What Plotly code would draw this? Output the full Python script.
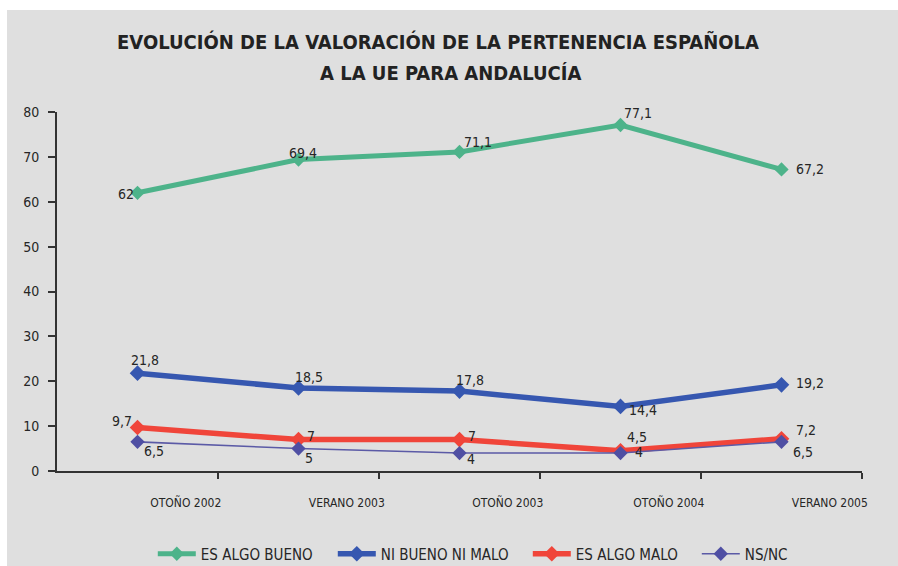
import plotly.graph_objects as go

categories = ["OTOÑO 2002", "VERANO 2003", "OTOÑO 2003", "OTOÑO 2004", "VERANO 2005"]
es_algo_bueno = [62, 69.4, 71.1, 77.1, 67.2]
ni_bueno_ni_malo = [21.8, 18.5, 17.8, 14.4, 19.2]
es_algo_malo = [9.7, 7, 7, 4.5, 7.2]
ns_nc = [6.5, 5, 4, 4, 6.5]
y_ticks = [0, 10, 20, 30, 40, 50, 60, 70, 80]
title_line1 = "EVOLUCIÓN DE LA VALORACIÓN DE LA PERTENENCIA ESPAÑOLA"
title_line2 = "A LA UE PARA ANDALUCÍA"

FONT = "DejaVu Sans Condensed, Liberation Sans Narrow, sans-serif"
TXT = "#262626"
BG = "#dfdfdf"
AXIS = "#333333"

W, H = 898, 566
ML, MR, MT, MB = 57, 36, 112, 95
PW, PH = W - ML - MR, H - MT - MB

x = list(range(len(categories)))

def fmt(v):
    return ("%g" % v).replace(".", ",")

# label offsets (pixels, +x right, +y down) for each data label
series = [
    ("ES ALGO BUENO", es_algo_bueno, "#4db38a", "#4db38a", 5, 11, 127,
     [(-12, 1), (4, -7), (18, -10), (17, -12), (28, 0)]),
    ("NI BUENO NI MALO", ni_bueno_ni_malo, "#3657b0", "#3657b0", 5.5, 12, 142,
     [(7, -13), (10, -11), (10, -11), (22, 4), (28, -2)]),
    ("ES ALGO MALO", es_algo_malo, "#f0453a", "#f0453a", 5.5, 12, 116,
     [(-16, -6), (12, -4), (12, -4), (16, -14), (24, -9)]),
    ("NS/NC", ns_nc, "#5b5aa6", "#4f4fa3", 1.6, 11, 60,
     [(16, 9), (10, 9), (11, 6), (18, -1), (21, 10)]),
]

fig = go.Figure()
annotations = []
for name, vals, color, mcolor, lw, ms, legw, offs in series:
    fig.add_trace(go.Scatter(
        x=x, y=vals, name=name, mode="lines+markers",
        line=dict(color=color, width=lw),
        marker=dict(symbol="diamond", size=ms, color=mcolor),
        cliponaxis=False, legendwidth=legw,
    ))
    for xi, v, (dx, dy) in zip(x, vals, offs):
        annotations.append(dict(
            x=xi, y=v, xref="x", yref="y", text=fmt(v), showarrow=False,
            xanchor="center", yanchor="middle", xshift=dx, yshift=-dy,
            font=dict(family=FONT, size=14, color=TXT),
        ))

annotations.append(dict(
    text="<b>" + title_line2 + "</b>", xref="paper", yref="paper",
    x=(450 - ML) / PW, y=(H - MB - 73) / PH, xanchor="center", yanchor="middle",
    showarrow=False, font=dict(family=FONT, size=20, color="#222222"),
))

label_offset = 0.3
fig.update_layout(
    width=W, height=H,
    margin=dict(l=ML, r=MR, t=MT, b=MB),
    paper_bgcolor=BG,
    plot_bgcolor=BG,
    title=dict(
        text="<b>" + title_line1 + "</b>",
        x=438 / W, xanchor="center", y=1 - 35 / H, yanchor="top",
        font=dict(family=FONT, size=20, color="#222222"),
    ),
    annotations=annotations,
    showlegend=True,
    legend=dict(
        orientation="h", xref="paper", x=0.119, xanchor="left",
        yref="container", y=1 - 554 / H, yanchor="middle",
        font=dict(family=FONT, size=15, color=TXT),
        bgcolor="rgba(0,0,0,0)", itemwidth=38,
    ),
    shapes=[
        dict(type="rect", xref="paper", yref="paper",
             x0=-0.2, x1=(7 - ML) / PW, y0=-0.5, y1=1.5,
             fillcolor="white", line=dict(width=0), layer="below"),
        dict(type="rect", xref="paper", yref="paper",
             x0=-0.2, x1=1.2, y0=(H - MB - 10) / PH, y1=1.5,
             fillcolor="white", line=dict(width=0), layer="below"),
    ],
)
fig.update_xaxes(
    range=[-0.5, len(categories) - 0.5],
    tickmode="array",
    tickvals=[i + label_offset for i in x],
    ticktext=categories,
    ticks="", ticklabelstandoff=20,
    tickfont=dict(family=FONT, size=12, color=TXT),
    showline=True, linecolor=AXIS, linewidth=2,
    showgrid=False, zeroline=False, automargin=False,
    minor=dict(tickmode="array", tickvals=[i + 0.5 for i in x], ticks="outside",
               ticklen=6, tickwidth=2, tickcolor=AXIS, showgrid=False),
)
fig.update_yaxes(
    range=[0, 80], tickmode="array", tickvals=y_ticks,
    ticks="outside", ticklen=7, tickwidth=2, tickcolor=AXIS,
    ticklabelstandoff=6,
    tickfont=dict(family=FONT, size=14, color=TXT),
    showline=True, linecolor=AXIS, linewidth=2,
    showgrid=False, zeroline=False, automargin=False,
)
fig.write_html(
    "out.html",
    config={"displayModeBar": False},
    post_script=("document.body.style.margin='0px';"
                 "document.body.style.overflow='hidden';"
                 "document.documentElement.style.overflow='hidden';"),
)
